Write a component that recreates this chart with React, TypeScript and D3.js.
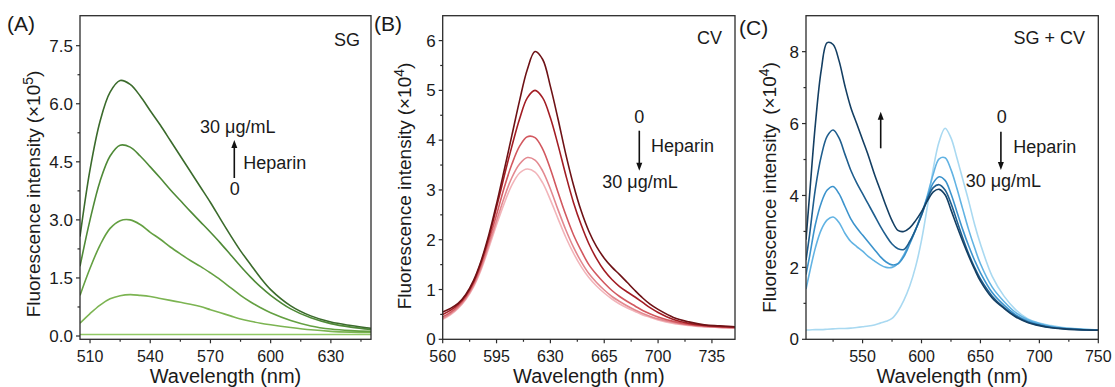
import * as d3 from 'd3'

const W = 1115
const H = 387
const FONT = '"Liberation Sans", Arial, sans-serif'

// (A) SG, heparin 0 -> 30 ug/mL
const wlA = [505, 510, 515, 520, 525, 530, 535, 540, 545, 550, 555, 560, 565, 570, 575, 580, 585, 590, 595, 600, 610, 620, 630, 640, 650]
const sgHep0 = [0.04, 0.04, 0.04, 0.04, 0.04, 0.04, 0.04, 0.04, 0.04, 0.04, 0.04, 0.04, 0.04, 0.04, 0.04, 0.04, 0.04, 0.04, 0.04, 0.04, 0.04, 0.04, 0.04, 0.04, 0.04]
const sgHep1 = [0.33, 0.58, 0.8, 0.96, 1.04, 1.07, 1.05, 1.02, 0.97, 0.92, 0.87, 0.82, 0.76, 0.68, 0.6, 0.52, 0.44, 0.38, 0.33, 0.29, 0.22, 0.16, 0.12, 0.1, 0.09]
const sgHep2 = [1.05, 1.75, 2.35, 2.78, 2.98, 3.0, 2.88, 2.68, 2.5, 2.3, 2.12, 1.95, 1.8, 1.63, 1.45, 1.25, 1.05, 0.88, 0.73, 0.6, 0.4, 0.26, 0.18, 0.14, 0.12]
const sgHep3 = [1.8, 3.0, 4.0, 4.65, 4.93, 4.88, 4.65, 4.37, 4.08, 3.78, 3.5, 3.22, 2.95, 2.68, 2.4, 2.1, 1.8, 1.52, 1.27, 1.05, 0.7, 0.47, 0.32, 0.23, 0.17]
const sgHep4 = [2.57, 4.3, 5.55, 6.3, 6.6, 6.5, 6.2, 5.82, 5.45, 5.05, 4.65, 4.25, 3.85, 3.45, 3.02, 2.6, 2.2, 1.85, 1.5, 1.2, 0.78, 0.52, 0.36, 0.27, 0.2]
const sgColors = ['#92c965', '#7cb452', '#64a042', '#4f8a37', '#3b6b2c']

// (B) CV, heparin 0 -> 30 ug/mL
const wlB = [560, 565, 570, 575, 580, 585, 590, 595, 600, 605, 610, 615, 620, 625, 630, 635, 640, 645, 650, 655, 660, 665, 670, 675, 680, 685, 690, 695, 700, 710, 720, 730, 740, 750]
const cvHep0 = [0.55, 0.62, 0.72, 0.9, 1.18, 1.58, 2.1, 2.72, 3.4, 4.1, 4.8, 5.42, 5.78, 5.62, 5.08, 4.42, 3.72, 3.1, 2.58, 2.17, 1.86, 1.63, 1.45, 1.3, 1.14, 0.98, 0.83, 0.7, 0.6, 0.44, 0.35, 0.29, 0.27, 0.25]
const cvHep1 = [0.5, 0.58, 0.7, 0.88, 1.15, 1.55, 2.05, 2.65, 3.28, 3.88, 4.43, 4.85, 5.0, 4.85, 4.45, 3.9, 3.3, 2.75, 2.3, 1.92, 1.62, 1.38, 1.2, 1.06, 0.95, 0.85, 0.74, 0.63, 0.54, 0.4, 0.32, 0.28, 0.26, 0.25]
const cvHep2 = [0.45, 0.54, 0.67, 0.85, 1.12, 1.5, 1.98, 2.5, 3.05, 3.52, 3.88, 4.07, 4.05, 3.82, 3.42, 2.95, 2.5, 2.1, 1.78, 1.5, 1.3, 1.13, 0.98, 0.86, 0.76, 0.67, 0.58, 0.51, 0.45, 0.36, 0.3, 0.27, 0.25, 0.24]
const cvHep3 = [0.42, 0.51, 0.64, 0.82, 1.08, 1.44, 1.9, 2.38, 2.85, 3.25, 3.52, 3.65, 3.6, 3.38, 3.02, 2.6, 2.2, 1.85, 1.56, 1.32, 1.14, 0.99, 0.86, 0.76, 0.67, 0.59, 0.52, 0.46, 0.41, 0.34, 0.29, 0.26, 0.24, 0.23]
const cvHep4 = [0.4, 0.49, 0.62, 0.8, 1.05, 1.4, 1.84, 2.3, 2.73, 3.1, 3.34, 3.42, 3.36, 3.14, 2.8, 2.42, 2.05, 1.73, 1.46, 1.24, 1.07, 0.93, 0.81, 0.71, 0.63, 0.56, 0.49, 0.44, 0.39, 0.32, 0.28, 0.25, 0.24, 0.23]
const cvColors = ['#6e1216', '#a31d24', '#d2585f', '#e38990', '#f2b5ba']

// (C) SG + CV, heparin 0 -> 30 ug/mL
const wlC = [502, 505, 510, 515, 520, 525, 530, 535, 540, 545, 550, 555, 560, 565, 570, 575, 580, 585, 590, 595, 600, 605, 610, 615, 620, 625, 630, 635, 640, 645, 650, 660, 670, 680, 690, 700, 710, 720, 730, 740, 750]
const mixHep0 = [0.26, 0.26, 0.27, 0.27, 0.28, 0.29, 0.3, 0.3, 0.31, 0.33, 0.35, 0.37, 0.4, 0.45, 0.5, 0.58, 0.78, 1.08, 1.48, 2.02, 2.75, 3.7, 4.75, 5.5, 5.87, 5.6, 5.05, 4.45, 3.85, 3.2, 2.65, 1.75, 1.2, 0.82, 0.57, 0.45, 0.38, 0.33, 0.3, 0.28, 0.26]
const mixHep1 = [1.4, 1.85, 2.55, 3.05, 3.32, 3.4, 3.25, 2.95, 2.72, 2.58, 2.45, 2.3, 2.18, 2.07, 2.0, 2.0, 2.1, 2.35, 2.7, 3.05, 3.45, 4.0, 4.6, 5.02, 5.05, 4.72, 4.2, 3.62, 3.05, 2.55, 2.1, 1.45, 1.05, 0.74, 0.55, 0.44, 0.36, 0.31, 0.29, 0.27, 0.26]
const mixHep2 = [1.8, 2.3, 3.2, 3.8, 4.15, 4.25, 4.05, 3.7, 3.35, 3.1, 2.9, 2.7, 2.5, 2.3, 2.15, 2.07, 2.1, 2.3, 2.65, 3.05, 3.5, 3.95, 4.35, 4.52, 4.42, 4.05, 3.55, 3.05, 2.6, 2.2, 1.85, 1.3, 0.95, 0.68, 0.51, 0.41, 0.34, 0.3, 0.28, 0.26, 0.25]
const mixHep3 = [2.2, 2.9, 4.2, 5.1, 5.65, 5.82, 5.6, 5.15, 4.7, 4.35, 4.05, 3.75, 3.45, 3.15, 2.88, 2.65, 2.52, 2.5, 2.72, 3.05, 3.45, 3.9, 4.22, 4.3, 4.15, 3.78, 3.3, 2.82, 2.38, 2.0, 1.68, 1.2, 0.88, 0.64, 0.48, 0.39, 0.33, 0.3, 0.28, 0.26, 0.25]
const mixHep4 = [2.77, 4.0, 6.0, 7.5, 8.25, 8.2, 7.75, 7.05, 6.45, 6.0, 5.55, 5.1, 4.6, 4.15, 3.7, 3.3, 3.03, 3.0, 3.1, 3.3, 3.55, 3.85, 4.1, 4.17, 4.02, 3.6, 3.15, 2.72, 2.32, 1.95, 1.62, 1.15, 0.86, 0.62, 0.47, 0.38, 0.32, 0.29, 0.27, 0.26, 0.25]
const mixColors = ['#a9d9f1', '#62b3e3', '#3c93cc', '#1f5e8e', '#143f63']

interface PanelProps {
  left: number
  right: number
  xDomain: [number, number]
  yDomain: [number, number]
  wl: number[]
  series: number[][]
  colors: string[]
  xTicks: number[]
  xMinor: number[]
  yTicks: number[]
  yMinor: number[]
  yFormat: (v: number) => string
  exponent: string
  yLabelX: number
  yLabelY: number
  wideGap?: boolean
}

const TOP = 15.7
const BOTTOM = 339.3

function Panel(p: PanelProps) {
  const x = d3.scaleLinear().domain(p.xDomain).range([p.left, p.right])
  const y = d3.scaleLinear().domain(p.yDomain).range([BOTTOM, TOP])
  const line = d3
    .line<number>()
    .x((_, i) => x(p.wl[i]))
    .y((d) => y(d))
    .curve(d3.curveCatmullRom.alpha(0.5))

  return (
    <g>
      <defs>
        <clipPath id={`clip-${p.left}`}>
          <rect x={p.left} y={TOP} width={p.right - p.left} height={BOTTOM - TOP} />
        </clipPath>
      </defs>
      <g clipPath={`url(#clip-${p.left})`}>
        {p.series.map((s, i) => (
          <path key={i} d={line(s) || ''} fill="none" stroke={p.colors[i]} strokeWidth={1.6} />
        ))}
      </g>
      <rect x={p.left} y={TOP} width={p.right - p.left} height={BOTTOM - TOP} fill="none" stroke="#2b2b2b" strokeWidth={1.3} />

      {/* x ticks */}
      {p.xTicks.map((t) => (
        <g key={t}>
          <line x1={x(t)} x2={x(t)} y1={BOTTOM} y2={BOTTOM + 4} stroke="#2b2b2b" strokeWidth={1.2} />
          <text x={x(t)} y={361.5} textAnchor="middle" fontSize={16} fill="#1a1a1a">{t}</text>
        </g>
      ))}
      {p.xMinor.map((t) => (
        <line key={t} x1={x(t)} x2={x(t)} y1={BOTTOM} y2={BOTTOM + 2.5} stroke="#2b2b2b" strokeWidth={1.2} />
      ))}

      {/* y ticks */}
      {p.yTicks.map((t) => (
        <g key={t}>
          <line x1={p.left - 4} x2={p.left} y1={y(t)} y2={y(t)} stroke="#2b2b2b" strokeWidth={1.2} />
          <text x={p.left - 7} y={y(t)} dy="0.36em" textAnchor="end" fontSize={17} fill="#1a1a1a">
            {p.yFormat(t)}
          </text>
        </g>
      ))}
      {p.yMinor.map((t) => (
        <line key={t} x1={p.left - 2.5} x2={p.left} y1={y(t)} y2={y(t)} stroke="#2b2b2b" strokeWidth={1.2} />
      ))}

      <text x={(p.left + p.right) / 2} y={383} textAnchor="middle" fontSize={20} fill="#1a1a1a">
        Wavelength (nm)
      </text>
      <text
        transform={`translate(${p.yLabelX},${p.yLabelY}) rotate(-90)`}
        textAnchor="middle"
        fontSize={19}
        fill="#1a1a1a"
      >
        Fluorescence intensity
        <tspan dx={p.wideGap ? 9 : 5}>(×10</tspan>
        <tspan dy={-7} fontSize={14}>{p.exponent}</tspan>
        <tspan dy={7}>)</tspan>
      </text>
    </g>
  )
}

function ArrowV({ x, y1, y2 }: { x: number; y1: number; y2: number }) {
  // y1 = tail, y2 = tip
  const dir = y2 < y1 ? 1 : -1
  return (
    <g>
      <line x1={x} x2={x} y1={y1} y2={y2 + dir * 6} stroke="#111" strokeWidth={1.6} />
      <path d={`M${x},${y2} L${x - 3},${y2 + dir * 8} L${x + 3},${y2 + dir * 8} Z`} fill="#111" />
    </g>
  )
}

export default function App() {
  const fmt1 = d3.format('.1f')
  const fmt0 = d3.format('d')
  return (
    <svg width={W} height={H} style={{ display: 'block', position: 'absolute', left: 0, top: 0, background: '#fff' }} fontFamily={FONT}>
      <rect width={W} height={H} fill="#fff" />

      <Panel
        left={80}
        right={371}
        xDomain={[505, 650]}
        yDomain={[-0.085, 8.275]}
        wl={wlA}
        series={[sgHep0, sgHep1, sgHep2, sgHep3, sgHep4]}
        colors={sgColors}
        xTicks={[510, 540, 570, 600, 630]}
        xMinor={[525, 555, 585, 615, 645]}
        yTicks={[0, 1.5, 3, 4.5, 6, 7.5]}
        yMinor={[0.75, 2.25, 3.75, 5.25, 6.75]}
        yFormat={fmt1}
        exponent="5"
        yLabelX={40}
        yLabelY={194}
      />
      <Panel
        left={442.7}
        right={735}
        xDomain={[560, 750]}
        yDomain={[0, 6.5]}
        wl={wlB}
        series={[cvHep4, cvHep3, cvHep2, cvHep1, cvHep0]}
        colors={[...cvColors].reverse()}
        xTicks={[560, 595, 630, 665, 700, 735]}
        xMinor={[577.5, 612.5, 647.5, 682.5, 717.5]}
        yTicks={[0, 1, 2, 3, 4, 5, 6]}
        yMinor={[0.5, 1.5, 2.5, 3.5, 4.5, 5.5]}
        yFormat={fmt0}
        exponent="4"
        yLabelX={411}
        yLabelY={186}
      />
      <Panel
        left={806}
        right={1098.3}
        xDomain={[502, 750]}
        yDomain={[0, 9]}
        wl={wlC}
        series={[mixHep0, mixHep1, mixHep2, mixHep3, mixHep4]}
        colors={mixColors}
        xTicks={[550, 600, 650, 700, 750]}
        xMinor={[525, 575, 625, 675, 725]}
        yTicks={[0, 2, 4, 6, 8]}
        yMinor={[1, 3, 5, 7]}
        yFormat={fmt0}
        exponent="4"
        yLabelX={776}
        yLabelY={187.5}
        wideGap
      />

      {/* panel letters */}
      <text x={7} y={31} fontSize={21} fill="#1a1a1a">(A)</text>
      <text x={374} y={31} fontSize={21} fill="#1a1a1a">(B)</text>
      <text x={739} y={35} fontSize={21} fill="#1a1a1a">(C)</text>

      {/* annotations A */}
      <text x={360} y={45.5} textAnchor="end" fontSize={18} fill="#1a1a1a">SG</text>
      <text x={200} y={132.5} fontSize={18} fill="#1a1a1a">30 μg/mL</text>
      <ArrowV x={234.3} y1={178} y2={140} />
      <text x={243.3} y={169} fontSize={18} fill="#1a1a1a">Heparin</text>
      <text x={234.7} y={194.5} textAnchor="middle" fontSize={18} fill="#1a1a1a">0</text>

      {/* annotations B */}
      <text x={722} y={43.5} textAnchor="end" fontSize={18} fill="#1a1a1a">CV</text>
      <text x={639.3} y={122.7} textAnchor="middle" fontSize={18} fill="#1a1a1a">0</text>
      <ArrowV x={639.3} y1={130.7} y2={170.7} />
      <text x={651} y={151.7} fontSize={18} fill="#1a1a1a">Heparin</text>
      <text x={602.3} y={188.3} fontSize={18} fill="#1a1a1a">30 μg/mL</text>

      {/* annotations C */}
      <text x={1085} y={43.5} textAnchor="end" fontSize={18} fill="#1a1a1a">SG + CV</text>
      <ArrowV x={880.7} y1={148.3} y2={111.7} />
      <text x={1001.7} y={122.7} textAnchor="middle" fontSize={18} fill="#1a1a1a">0</text>
      <ArrowV x={1000.9} y1={131.7} y2={170} />
      <text x={1013.3} y={153.3} fontSize={18} fill="#1a1a1a">Heparin</text>
      <text x={965.7} y={187.3} fontSize={18} fill="#1a1a1a">30 μg/mL</text>
    </svg>
  )
}
